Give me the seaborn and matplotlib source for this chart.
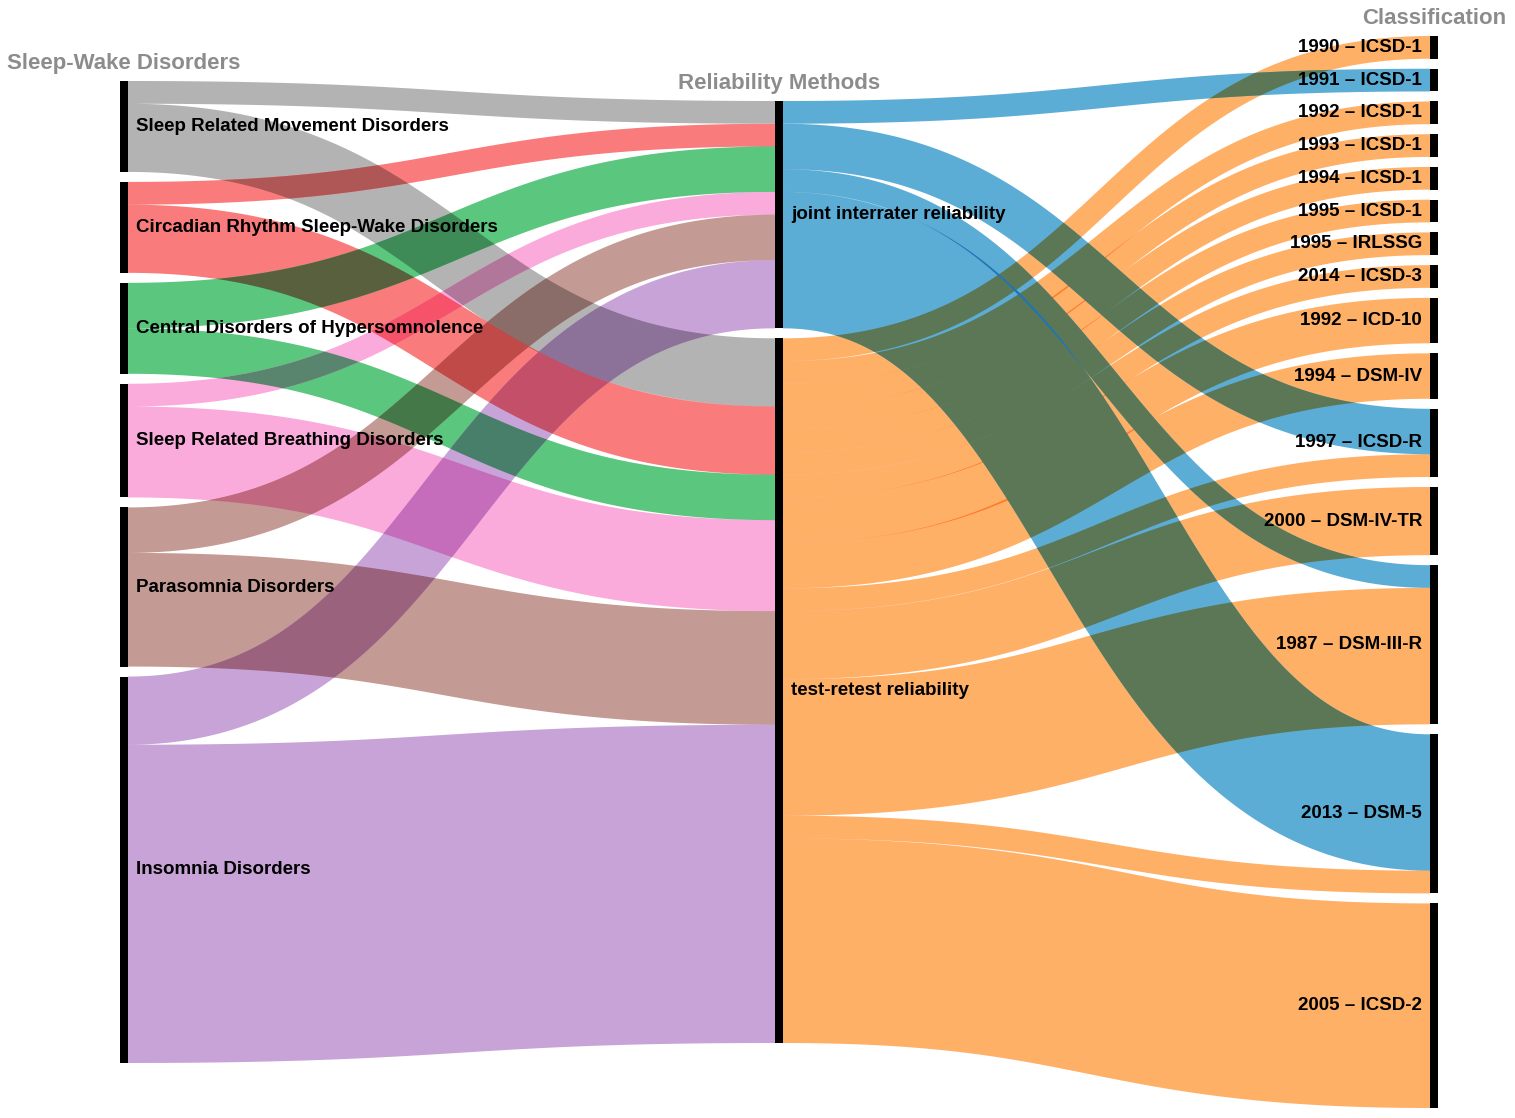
import itertools
import seaborn as sns
import matplotlib.pyplot as plt
import numpy as np
from matplotlib.path import Path
from matplotlib.patches import PathPatch, Rectangle

sns.set_theme(style='white')
plt.rcParams['font.family'] = ['Liberation Sans', 'DejaVu Sans']

# nodes, top to bottom in each column
disorders = ['Sleep Related Movement Disorders', 'Circadian Rhythm Sleep-Wake Disorders',
             'Central Disorders of Hypersomnolence', 'Sleep Related Breathing Disorders',
             'Parasomnia Disorders', 'Insomnia Disorders']
methods = ['joint interrater reliability', 'test-retest reliability']
classifications = ['1990 \u2013 ICSD-1', '1991 \u2013 ICSD-1', '1992 \u2013 ICSD-1', '1993 \u2013 ICSD-1',
                   '1994 \u2013 ICSD-1', '1995 \u2013 ICSD-1', '1995 \u2013 IRLSSG', '2014 \u2013 ICSD-3',
                   '1992 \u2013 ICD-10', '1994 \u2013 DSM-IV', '1997 \u2013 ICSD-R', '2000 \u2013 DSM-IV-TR',
                   '1987 \u2013 DSM-III-R', '2013 \u2013 DSM-5', '2005 \u2013 ICSD-2']
headers = ['Sleep-Wake Disorders', 'Reliability Methods', 'Classification']

# number of studies
joint_by_disorder = [1, 1, 2, 1, 2, 3]
retest_by_disorder = [3, 3, 2, 4, 5, 14]
joint_by_class = [0, 1, 0, 0, 0, 0, 0, 0, 0, 0, 2, 0, 1, 6, 0]
retest_by_class = [1, 0, 1, 1, 1, 1, 1, 1, 2, 2, 1, 3, 6, 1, 9]

# link colours as they look on white (multiplied where links cross)
disorder_colors = sns.color_palette(['#b3b3b3', '#fa7b7b', '#5ac67e', '#fbaadc', '#c49a94', '#c8a3d8'])
method_colors = sns.color_palette(['#5cadd5', '#ffb067'])

# layout (pixels)
W, H = 1515, 1118
COL_X = [120, 775, 1430]
BAR_W = 8
TOP, BOTTOM = 36, 1108
PAD = 10

left_vals = [a + b for a, b in zip(joint_by_disorder, retest_by_disorder)]
mid_vals = [sum(joint_by_disorder), sum(retest_by_disorder)]
right_vals = [a + b for a, b in zip(joint_by_class, retest_by_class)]
columns = [left_vals, mid_vals, right_vals]

k = (BOTTOM - TOP - (len(right_vals) - 1) * PAD) / sum(right_vals)


def column_positions(values):
    height = sum(values) * k + (len(values) - 1) * PAD
    y = TOP + (BOTTOM - TOP - height) / 2
    pos = []
    for v in values:
        pos.append(y)
        y += v * k + PAD
    return pos


node_y = [column_positions(c) for c in columns]

# links: (src column, src index, tgt column, tgt index, value, color)
links = []
for i in range(len(disorders)):
    links.append([0, i, 1, 0, joint_by_disorder[i], disorder_colors[i]])
    links.append([0, i, 1, 1, retest_by_disorder[i], disorder_colors[i]])
for j in range(len(classifications)):
    if joint_by_class[j] > 0:
        links.append([1, 0, 2, j, joint_by_class[j], method_colors[0]])
    if retest_by_class[j] > 0:
        links.append([1, 1, 2, j, retest_by_class[j], method_colors[1]])

# stack links on each node
out_off = {}
in_off = {}
src_y, tgt_y = {}, {}
for n, l in sorted(enumerate(links), key=lambda e: (e[1][0], e[1][1], e[1][3])):
    key = (l[0], l[1])
    off = out_off.get(key, 0)
    src_y[n] = node_y[l[0]][l[1]] + off + l[4] * k / 2
    out_off[key] = off + l[4] * k
for n, l in sorted(enumerate(links), key=lambda e: (e[1][2], e[1][3], e[1][1])):
    key = (l[2], l[3])
    off = in_off.get(key, 0)
    tgt_y[n] = node_y[l[2]][l[3]] + off + l[4] * k / 2
    in_off[key] = off + l[4] * k


def link_path(x0, y0, x1, y1, w, n=120):
    t = np.linspace(0, 1, n)[:, None]
    xm = (x0 + x1) / 2
    p0, p1, p2, p3 = [np.array(p) for p in [(x0, y0), (xm, y0), (xm, y1), (x1, y1)]]
    pts = (1 - t) ** 3 * p0 + 3 * (1 - t) ** 2 * t * p1 + 3 * (1 - t) * t ** 2 * p2 + t ** 3 * p3
    d = 3 * (1 - t) ** 2 * (p1 - p0) + 6 * (1 - t) * t * (p2 - p1) + 3 * t ** 2 * (p3 - p2)
    nrm = np.column_stack([-d[:, 1], d[:, 0]]) / np.linalg.norm(d, axis=1)[:, None]
    poly = np.vstack([pts + nrm * w / 2, (pts - nrm * w / 2)[::-1]])
    return Path(np.vstack([poly, poly[:1]]), closed=True)


fig = plt.figure(figsize=(W / 100, H / 100), dpi=100)
ax = fig.add_axes([0, 0, 1, 1])
ax.set_xlim(0, W)
ax.set_ylim(H, 0)
ax.axis('off')

paths = []
for n, l in enumerate(links):
    x0 = COL_X[l[0]] + BAR_W
    x1 = COL_X[l[2]]
    p = link_path(x0, src_y[n], x1, tgt_y[n], l[4] * k)
    paths.append(p)
    ax.add_patch(PathPatch(p, facecolor=l[5], edgecolor='none', lw=0, zorder=1))

# multiply-style darkening where two links cross
for a, b in itertools.combinations(range(len(links)), 2):
    if links[a][0] != links[b][0]:
        continue
    ea, eb = paths[a].get_extents(), paths[b].get_extents()
    if not ea.overlaps(eb):
        continue
    mix = tuple(np.array(links[a][5]) * np.array(links[b][5]))
    patch = PathPatch(paths[a], facecolor=mix, edgecolor='none', lw=0, zorder=2)
    ax.add_patch(patch)
    patch.set_clip_path(paths[b], ax.transData)

# node bars and labels
names = [disorders, methods, classifications]
for c, vals in enumerate(columns):
    for i, v in enumerate(vals):
        y0 = node_y[c][i]
        ax.add_patch(Rectangle((COL_X[c], y0), BAR_W, v * k, facecolor='black', lw=0, zorder=3))
        yc = y0 + v * k / 2
        if c < 2:
            ax.text(COL_X[c] + BAR_W + 8, yc, names[c][i], ha='left', va='center',
                    fontsize=13.5, fontweight='bold', color='black', zorder=4)
        else:
            ax.text(COL_X[c] - 8, yc, names[c][i], ha='right', va='center',
                    fontsize=13.5, fontweight='bold', color='black', zorder=4)
    ax.text(COL_X[c] + BAR_W / 2, node_y[c][0] - 17, headers[c], ha='center', va='center',
            fontsize=16, fontweight='bold', color='#8c8c8c', zorder=4)

fig.savefig('out.png', dpi=100)
